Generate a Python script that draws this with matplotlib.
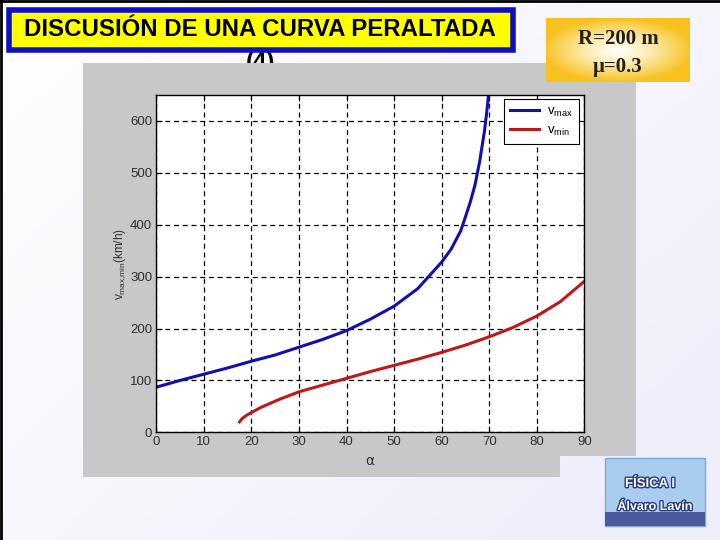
import numpy as np
import matplotlib
matplotlib.use("Agg")
import matplotlib.pyplot as plt
from matplotlib.patches import Rectangle, Polygon
import matplotlib.patheffects as pe

# ---- data ----
alpha_max = [0, 5, 10, 15, 20, 25, 30, 35, 40, 45, 50, 55, 60, 62, 64, 65, 66, 67, 68, 69, 69.5, 70]
v_max = [87, 100, 112, 124, 137, 149, 164, 179, 196, 218, 243, 277, 328, 353, 388, 415, 443, 476, 522, 580, 618, 663]

alpha_min = [17.5, 18, 19, 20, 21, 22, 24, 26, 28, 30, 35, 40, 45, 50, 55, 60, 65, 70, 75, 80, 85, 90]
v_min = [20, 26, 33, 38, 43, 48, 56, 64, 71, 78, 91, 104, 117, 129, 141, 154, 168, 184, 202, 224, 252, 291]

x_ticks = [0, 10, 20, 30, 40, 50, 60, 70, 80, 90]
y_ticks = [0, 100, 200, 300, 400, 500, 600]

W, H = 720, 540
fig = plt.figure(figsize=(7.2, 5.4), dpi=100)

def fx(px):
    return px / W

def fy(py):
    return 1 - py / H

# ---- slide background with soft gradient ----
c0 = np.array([1.0, 1.0, 1.0])
c1 = np.array([0.935, 0.935, 0.985])
bg = fig.add_axes([0, 0, 1, 1], zorder=0)
gx = np.linspace(0, 1, 200)
gy = np.linspace(0, 1, 150)
GX, GY = np.meshgrid(gx, gy)
t = np.clip(0.6 * GX + 0.5 * GY, 0, 1)
img = c0[None, None, :] * (1 - t[..., None]) + c1[None, None, :] * t[..., None]
bg.imshow(img, extent=[0, 1, 0, 1], aspect='auto', origin='upper', zorder=0)
bg.set_xlim(0, 1)
bg.set_ylim(0, 1)
bg.axis('off')
bg.plot([0.001, 0.001], [0, 1], color='black', lw=2.0)
bg.plot([0, 1], [0.999, 0.999], color='black', lw=2.0)

# "(4)" partly hidden behind the gray panel
bg.text(fx(260), fy(63), '(4)', ha='center', va='center', fontsize=17.3, fontweight='bold',
        family='Liberation Sans', color='black', zorder=1)

# ---- gray figure panel (corner hidden by the logo's light background) ----
panel_px = [(83, 63), (636, 63), (636, 456), (560, 456), (560, 477), (83, 477)]
bg.add_patch(Polygon([(fx(x), fy(y)) for x, y in panel_px], closed=True,
                     facecolor='#c8c8c8', edgecolor='none', zorder=2))

# ---- title box ----
fig.patches.append(Rectangle((fx(9), fy(50)), fx(504), 40 / H, transform=fig.transFigure,
                             facecolor='#ffff00', edgecolor='#1010c0', lw=4, zorder=2))
fig.text(fx(260), fy(30), 'DISCUSIÓN DE UNA CURVA PERALTADA', ha='center', va='center',
         fontsize=17.3, fontweight='bold', family='Liberation Sans', color='black', zorder=3)

# ---- R / mu box with gradient ----
rax = fig.add_axes([fx(546), fy(82), fx(144), 64 / H], zorder=5)
rx = np.linspace(-1, 1, 150)
ry = np.linspace(-1, 1, 70)
RX, RY = np.meshgrid(rx, ry)
rr = np.clip(np.sqrt((RX * 0.95) ** 2 + (RY * 1.0) ** 2), 0, 1) ** 1.3
cin = np.array([1.0, 1.0, 0.97])
cout = np.array([0.97, 0.76, 0.12])
rimg = cin[None, None, :] * (1 - rr[..., None]) + cout[None, None, :] * rr[..., None]
rax.imshow(rimg, extent=[0, 1, 0, 1], aspect='auto')
rax.set_xlim(0, 1)
rax.set_ylim(0, 1)
rax.axis('off')
rax.text(0.5, 0.67, 'R=200 m', ha='center', va='center', fontsize=15,
         family='Liberation Serif', fontweight='bold', color='#202020')
rax.text(0.5, 0.24, 'μ=0.3', ha='center', va='center', fontsize=15,
         family='Liberation Serif', fontweight='bold', color='#202020')

# ---- logo ----
fig.patches.append(Rectangle((fx(605), fy(526)), fx(100), 68 / H, transform=fig.transFigure,
                             facecolor='#a8cdee', edgecolor='#7fa8d8', lw=1, zorder=3))
fig.patches.append(Rectangle((fx(605), fy(526)), fx(100), 14 / H, transform=fig.transFigure,
                             facecolor='#4a5a9a', edgecolor='none', zorder=3))
fig.text(fx(650), fy(484), 'FÍSICA I', ha='center', va='center', fontsize=9.5, fontweight='bold',
         color='white', family='Liberation Sans', zorder=4,
         path_effects=[pe.withStroke(linewidth=2, foreground='#2a3a80')])
fig.text(fx(655), fy(507), 'Álvaro Lavín', ha='center', va='center', fontsize=9, fontweight='bold',
         color='white', family='Liberation Sans', zorder=4,
         path_effects=[pe.withStroke(linewidth=2, foreground='#2a3a80')])

# ---- main axes ----
ax = fig.add_axes([fx(156.3), fy(432.3), fx(428), 337.3 / H], zorder=4)
ax.set_facecolor('white')
ax.plot(alpha_max, v_max, color='#1010b0', lw=2.2, label=r'$\mathregular{v_{max}}$')
ax.plot(alpha_min, v_min, color='#c01818', lw=2.2, label=r'$\mathregular{v_{min}}$')
ax.set_xlim(0, 90)
ax.set_ylim(0, 650)
ax.set_xticks(x_ticks)
ax.set_yticks(y_ticks)
ax.grid(True, color='black', linestyle=(0, (4, 3)), lw=0.9)
ax.tick_params(direction='in', length=4, width=0.8, labelsize=9.5, colors='black',
               top=True, right=True, pad=3)
for lab in ax.get_xticklabels() + ax.get_yticklabels():
    lab.set_family('Liberation Sans')
    lab.set_color('#303030')
for s in ax.spines.values():
    s.set_linewidth(1.0)
    s.set_color('black')
ax.set_xlabel('α', fontsize=10, labelpad=4, color='#303030')
ax.set_ylabel(r'$\mathregular{v_{max{,}min}}$(km/h)', fontsize=8.5, labelpad=1, color='#303030',
              family='Liberation Sans')
leg = ax.legend(loc='upper right', bbox_to_anchor=(0.988, 0.987), borderaxespad=0,
                fancybox=False, framealpha=1, edgecolor='black',
                handlelength=2.2, handletextpad=0.6, borderpad=0.45, labelspacing=0.45,
                prop={'family': 'Liberation Sans', 'size': 9.5})
leg.get_frame().set_linewidth(0.8)

fig.savefig('out.png', dpi=100)
